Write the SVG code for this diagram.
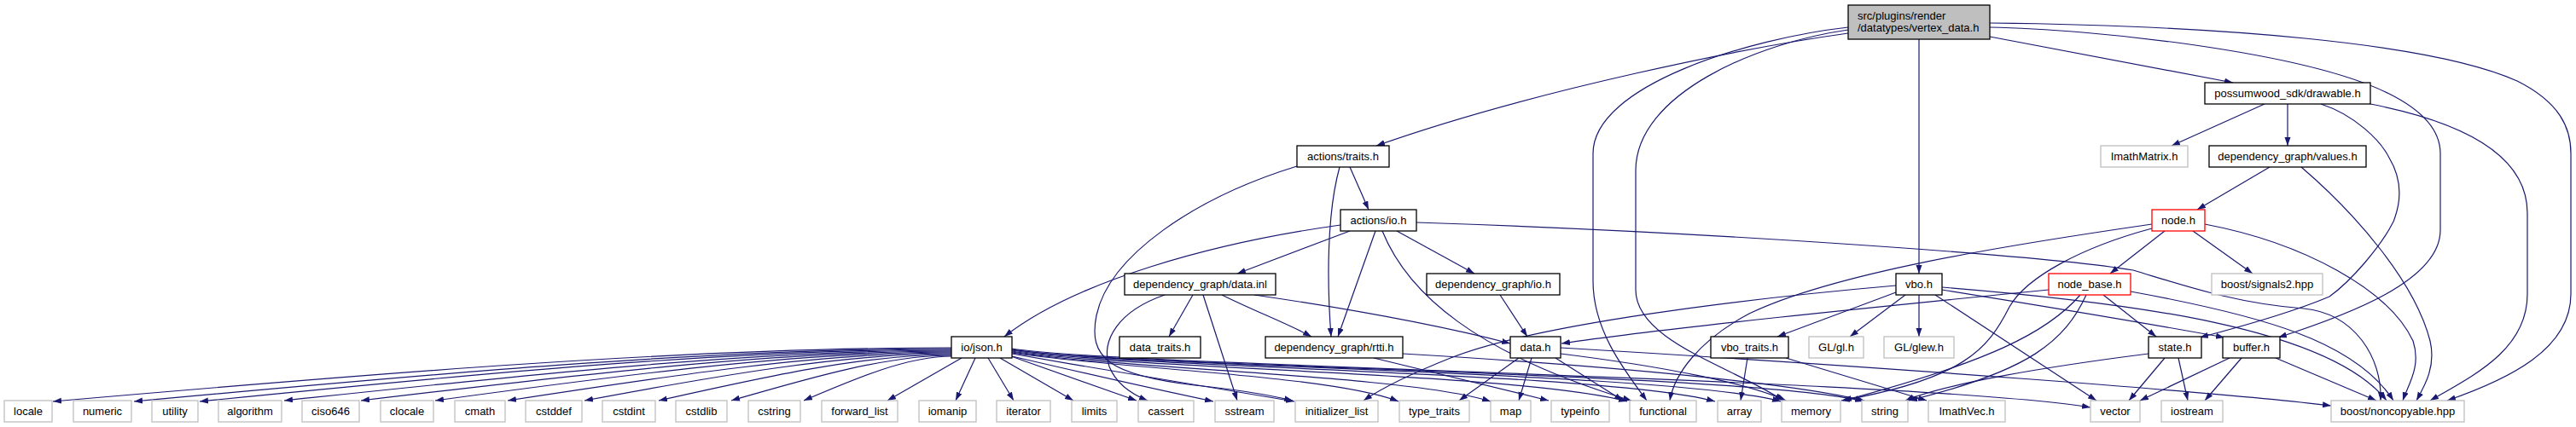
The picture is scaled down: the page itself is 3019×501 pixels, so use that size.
<svg xmlns="http://www.w3.org/2000/svg" width="3019" height="501" viewBox="0 0 3019 501">
<style>
rect{fill:#fff;stroke-width:1.3}
.k rect{stroke:#000}
.g rect{stroke:#bfbfbf}
.r rect{stroke:#ff0000}
.m rect{fill:#bfbfbf;stroke:#000}
text{font-family:"Liberation Sans",Arial,sans-serif;font-size:13px;fill:#000;text-anchor:middle}
#edges path{fill:none;stroke:#191970;stroke-width:1.2;marker-end:url(#a)}
</style>
<defs>
<marker id="a" markerWidth="10" markerHeight="8" refX="10" refY="3.5" orient="auto" markerUnits="userSpaceOnUse"><path d="M0,0 L10,3.5 L0,7 z" fill="#191970"/></marker>
</defs>
<rect x="0" y="0" width="3019" height="501" style="fill:#fff;stroke:none"/>
<g id="edges">
<!-- main -->
<path d="M2166,39 C2050,55 1800,105 1613,171"/>
<path d="M2166,32 C2050,45 1867,100 1867,180 L1867,330 C1867,385 1900,430 1930,470"/>
<path d="M2166,35 C2060,50 1917,110 1917,200 L1917,340 C1917,400 2030,430 2090,470"/>
<path d="M2249,46 L2249,321"/>
<path d="M2332,43 L2617,97"/>
<path d="M2332,32 C2450,34 2700,60 2800,110 C2850,135 2860,160 2860,180 L2860,270 C2860,330 2750,370 2670,396"/>
<path d="M2332,27 C2600,30 2850,50 2950,95 C3000,120 3013,150 3013,180 L3013,345 C3013,410 2940,445 2868,470"/>
<!-- drawable -->
<path d="M2654,122 L2545,171"/>
<path d="M2681,122 L2681,171"/>
<path d="M2720,122 C2760,135 2790,165 2800,185 C2815,210 2815,235 2805,260 C2790,290 2755,330 2730,348 C2690,365 2620,385 2578,396"/>
<path d="M2778,122 C2870,140 2962,175 2962,250 L2962,345 C2962,410 2900,440 2848,470"/>
<!-- values -->
<path d="M2660,196 L2575,246"/>
<path d="M2697,196 C2760,250 2830,330 2848,400 C2855,430 2842,452 2832,470"/>
<!-- node.h -->
<path d="M2537,271 L2473,321"/>
<path d="M2570,271 L2640,321"/>
<path d="M2522,263 C2350,288 2150,320 2050,368 C1990,400 1962,440 1957,470"/>
<path d="M2522,268 C2440,290 2375,325 2355,360 C2330,410 2300,445 2158,470"/>
<path d="M2584,263 C2700,285 2800,340 2828,400 C2838,430 2822,452 2816,470"/>
<!-- node_base.h -->
<path d="M2401,340 C2200,360 1950,385 1830,403"/>
<path d="M2465,346 L2527,395"/>
<path d="M2438,346 C2400,390 2330,425 2160,470"/>
<path d="M2445,346 C2420,400 2380,435 2237,470"/>
<path d="M2497,342 C2650,370 2760,400 2805,470"/>
<!-- vbo.h -->
<path d="M2222,335 C2050,350 1800,380 1700,420 C1650,440 1620,455 1598,470"/>
<path d="M2222,343 L2083,395"/>
<path d="M2233,346 L2168,395"/>
<path d="M2249,346 L2249,395"/>
<path d="M2268,346 L2457,470"/>
<path d="M2276,340 C2400,360 2520,380 2607,396"/>
<path d="M2276,337 C2500,355 2730,385 2797,470"/>
<!-- state.h -->
<path d="M2537,420 L2495,470"/>
<path d="M2553,420 L2564,470"/>
<path d="M2518,415 C2400,430 2280,450 2233,470"/>
<!-- buffer.h -->
<path d="M2613,420 L2508,470"/>
<path d="M2627,420 L2584,470"/>
<path d="M2667,420 L2785,470"/>
<!-- vbo_traits.h -->
<path d="M2048,420 L2040,470"/>
<path d="M2093,420 L2258,470"/>
<!-- actions/traits.h -->
<path d="M1582,196 L1604,246"/>
<path d="M1570,196 C1555,250 1555,330 1560,395"/>
<path d="M1520,195 C1400,232 1300,300 1285,370 C1275,420 1300,440 1400,452 C1460,458 1490,464 1515,470"/>
<!-- actions/io.h -->
<path d="M1571,264 C1420,285 1260,330 1177,395"/>
<path d="M1582,271 L1450,321"/>
<path d="M1612,271 L1568,395"/>
<path d="M1637,271 L1728,321"/>
<path d="M1620,271 C1650,345 1730,415 1912,470"/>
<path d="M1660,261 C2000,272 2400,300 2500,317 C2560,335 2620,356 2700,362 C2760,368 2792,420 2790,470"/>
<!-- data.inl -->
<path d="M1398,346 L1370,395"/>
<path d="M1410,346 L1450,470"/>
<path d="M1365,346 C1310,365 1290,400 1300,430 C1308,450 1325,462 1345,470"/>
<path d="M1432,346 C1470,365 1510,380 1537,395"/>
<path d="M1470,346 C1600,365 1700,385 1770,403"/>
<!-- dg/io.h -->
<path d="M1758,346 L1790,395"/>
<!-- rtti.h -->
<path d="M1610,420 L1815,470"/>
<path d="M1644,415 C1900,430 2100,450 2185,470"/>
<!-- data.h -->
<path d="M1780,420 L1710,470"/>
<path d="M1795,420 L1780,470"/>
<path d="M1823,420 L1902,470"/>
<path d="M1829,415 C1950,430 2050,450 2093,470"/>
<path d="M1829,408 C2200,430 2600,460 2732,476"/>
<!-- io/json.h left -->
<path d="M1115,408 C799,408 431,439 62,471"/>
<path d="M1115,409 C828,409 492,440 157,471"/>
<path d="M1115,410 C851,410 542,440 234,471"/>
<path d="M1115,411 C880,411 607,441 333,470"/>
<path d="M1115,412 C907,412 665,441 423,470"/>
<path d="M1115,413 C933,413 722,441 510,470"/>
<path d="M1115,414 C959,414 777,442 595,470"/>
<path d="M1115,415 C986,415 835,442 685,470"/>
<path d="M1115,416 C1012,416 892,443 772,470"/>
<path d="M1115,417 C1038,417 947,444 857,470"/>
<path d="M1115,418 C1063,418 1003,444 942,470"/>
<path d="M1127,420 L1040,470"/>
<path d="M1143,420 L1120,470"/>
<path d="M1158,420 L1188,470"/>
<path d="M1172,420 L1258,470"/>
<!-- io/json.h right -->
<path d="M1185,418 L1332,470"/>
<path d="M1186,418 C1280,440 1360,458 1422,471"/>
<path d="M1186,415 C1300,435 1420,455 1517,471"/>
<path d="M1186,414 C1300,432 1560,440 1639,471"/>
<path d="M1186,413 C1300,432 1650,440 1747,471"/>
<path d="M1186,412 C1300,432 1780,437 1907,471"/>
<path d="M1186,411 C1300,431 1880,436 2010,471"/>
<path d="M1186,410 C1300,430 1960,436 2087,471"/>
<path d="M1186,410 C1300,430 2060,438 2184,471"/>
<path d="M1186,409 C1300,429 2250,445 2450,478"/>
</g>
<g id="main" class="m"><rect x="2166" y="6" width="166" height="40"/><text x="2177" y="23" style="text-anchor:start">src/plugins/render</text><text x="2177" y="37" style="text-anchor:start">/datatypes/vertex_data.h</text></g>
<g id="n_traits" class="k"><rect x="1520" y="171" width="108" height="25"/><text x="1574" y="188">actions/traits.h</text></g>
<g id="n_drawable" class="k"><rect x="2584" y="97" width="194" height="25"/><text x="2681" y="114">possumwood_sdk/drawable.h</text></g>
<g id="n_imathmatrix" class="g"><rect x="2462" y="171" width="102" height="25"/><text x="2513" y="188">ImathMatrix.h</text></g>
<g id="n_values" class="k"><rect x="2589" y="171" width="184" height="25"/><text x="2681" y="188">dependency_graph/values.h</text></g>
<g id="n_actio" class="k"><rect x="1571" y="246" width="89" height="25"/><text x="1615.5" y="263">actions/io.h</text></g>
<g id="n_node" class="r"><rect x="2522" y="246" width="62" height="25"/><text x="2553" y="263">node.h</text></g>
<g id="n_datainl" class="k"><rect x="1318" y="321" width="177" height="25"/><text x="1406.5" y="338">dependency_graph/data.inl</text></g>
<g id="n_dgio" class="k"><rect x="1672" y="321" width="156" height="25"/><text x="1750" y="338">dependency_graph/io.h</text></g>
<g id="n_vbo" class="k"><rect x="2222" y="321" width="54" height="25"/><text x="2249" y="338">vbo.h</text></g>
<g id="n_nodebase" class="r"><rect x="2401" y="321" width="96" height="25"/><text x="2449" y="338">node_base.h</text></g>
<g id="n_signals2" class="g"><rect x="2592" y="321" width="130" height="25"/><text x="2657" y="338">boost/signals2.hpp</text></g>
<g id="n_json" class="k"><rect x="1115" y="395" width="71" height="25"/><text x="1150.5" y="412">io/json.h</text></g>
<g id="n_datatraits" class="k"><rect x="1312" y="395" width="95" height="25"/><text x="1359.5" y="412">data_traits.h</text></g>
<g id="n_rtti" class="k"><rect x="1483" y="395" width="161" height="25"/><text x="1563.5" y="412">dependency_graph/rtti.h</text></g>
<g id="n_datah" class="k"><rect x="1770" y="395" width="59" height="25"/><text x="1799.5" y="412">data.h</text></g>
<g id="n_vbotraits" class="k"><rect x="2005" y="395" width="91" height="25"/><text x="2050.5" y="412">vbo_traits.h</text></g>
<g id="n_gl" class="g"><rect x="2120" y="395" width="64" height="25"/><text x="2152" y="412">GL/gl.h</text></g>
<g id="n_glew" class="g"><rect x="2208" y="395" width="82" height="25"/><text x="2249" y="412">GL/glew.h</text></g>
<g id="n_state" class="k"><rect x="2518" y="395" width="62" height="25"/><text x="2549" y="412">state.h</text></g>
<g id="n_buffer" class="k"><rect x="2605" y="395" width="67" height="25"/><text x="2638.5" y="412">buffer.h</text></g>
<g id="n_locale" class="g"><rect x="5" y="470" width="56" height="25"/><text x="33" y="487">locale</text></g>
<g id="n_numeric" class="g"><rect x="86" y="470" width="68" height="25"/><text x="120" y="487">numeric</text></g>
<g id="n_utility" class="g"><rect x="178" y="470" width="54" height="25"/><text x="205" y="487">utility</text></g>
<g id="n_algorithm" class="g"><rect x="256" y="470" width="74" height="25"/><text x="293" y="487">algorithm</text></g>
<g id="n_ciso646" class="g"><rect x="354" y="470" width="67" height="25"/><text x="387.5" y="487">ciso646</text></g>
<g id="n_clocale" class="g"><rect x="446" y="470" width="62" height="25"/><text x="477" y="487">clocale</text></g>
<g id="n_cmath" class="g"><rect x="533" y="470" width="59" height="25"/><text x="562.5" y="487">cmath</text></g>
<g id="n_cstddef" class="g"><rect x="616" y="470" width="66" height="25"/><text x="649" y="487">cstddef</text></g>
<g id="n_cstdint" class="g"><rect x="706" y="470" width="62" height="25"/><text x="737" y="487">cstdint</text></g>
<g id="n_cstdlib" class="g"><rect x="792" y="470" width="60" height="25"/><text x="822" y="487">cstdlib</text></g>
<g id="n_cstring" class="g"><rect x="877" y="470" width="61" height="25"/><text x="907.5" y="487">cstring</text></g>
<g id="n_forward_list" class="g"><rect x="963" y="470" width="89" height="25"/><text x="1007.5" y="487">forward_list</text></g>
<g id="n_iomanip" class="g"><rect x="1077" y="470" width="67" height="25"/><text x="1110.5" y="487">iomanip</text></g>
<g id="n_iterator" class="g"><rect x="1168" y="470" width="63" height="25"/><text x="1199.5" y="487">iterator</text></g>
<g id="n_limits" class="g"><rect x="1256" y="470" width="53" height="25"/><text x="1282.5" y="487">limits</text></g>
<g id="n_cassert" class="g"><rect x="1334" y="470" width="65" height="25"/><text x="1366.5" y="487">cassert</text></g>
<g id="n_sstream" class="g"><rect x="1424" y="470" width="69" height="25"/><text x="1458.5" y="487">sstream</text></g>
<g id="n_initializer_list" class="g"><rect x="1518" y="470" width="97" height="25"/><text x="1566.5" y="487">initializer_list</text></g>
<g id="n_type_traits" class="g"><rect x="1640" y="470" width="82" height="25"/><text x="1681" y="487">type_traits</text></g>
<g id="n_map" class="g"><rect x="1747" y="470" width="47" height="25"/><text x="1770.5" y="487">map</text></g>
<g id="n_typeinfo" class="g"><rect x="1818" y="470" width="68" height="25"/><text x="1852" y="487">typeinfo</text></g>
<g id="n_functional" class="g"><rect x="1910" y="470" width="78" height="25"/><text x="1949" y="487">functional</text></g>
<g id="n_array" class="g"><rect x="2013" y="470" width="51" height="25"/><text x="2038.5" y="487">array</text></g>
<g id="n_memory" class="g"><rect x="2088" y="470" width="69" height="25"/><text x="2122.5" y="487">memory</text></g>
<g id="n_string" class="g"><rect x="2182" y="470" width="54" height="25"/><text x="2209" y="487">string</text></g>
<g id="n_imathvec" class="g"><rect x="2260" y="470" width="90" height="25"/><text x="2305" y="487">ImathVec.h</text></g>
<g id="n_vector" class="g"><rect x="2450" y="470" width="58" height="25"/><text x="2479" y="487">vector</text></g>
<g id="n_iostream" class="g"><rect x="2533" y="470" width="72" height="25"/><text x="2569" y="487">iostream</text></g>
<g id="n_noncopyable" class="g"><rect x="2732" y="470" width="156" height="25"/><text x="2810" y="487">boost/noncopyable.hpp</text></g>
</svg>
